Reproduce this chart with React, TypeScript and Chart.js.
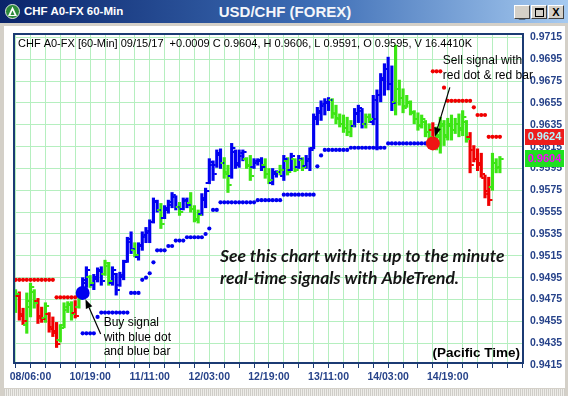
import React, { useEffect, useRef } from 'react';
import { Chart, registerables } from 'chart.js';

Chart.register(...registerables);

// ---------- DATA (hourly bars, USD/CHF) ----------
const opens = [
  0.9470, 0.9478, 0.9462, 0.9452, 0.9468, 0.9482, 0.9474, 0.9460, 0.9458, 0.9462,
  0.9450, 0.9446, 0.9438, 0.9452, 0.9465, 0.9470, 0.9463, 0.9468, 0.9477, 0.9490,
  0.9496, 0.9488, 0.9494, 0.9501, 0.9498, 0.9506, 0.9490, 0.9498, 0.9488, 0.9496,
  0.9510, 0.9528, 0.9520, 0.9514, 0.9524, 0.9532, 0.9536, 0.9546, 0.9564, 0.9557,
  0.9550, 0.9557, 0.9562, 0.9569, 0.9560, 0.9558, 0.9565, 0.9563, 0.9558, 0.9548,
  0.9553, 0.9566, 0.9582, 0.9598, 0.9598, 0.9607, 0.9600, 0.9592, 0.9588, 0.9610,
  0.9600, 0.9606, 0.9604, 0.9598, 0.9596, 0.9600, 0.9602, 0.9598, 0.9590, 0.9582,
  0.9590, 0.9592, 0.9588, 0.9602, 0.9594, 0.9604, 0.9596, 0.9603, 0.9597, 0.9602,
  0.9614, 0.9640, 0.9646, 0.9652, 0.9655, 0.9658, 0.9646, 0.9641, 0.9636, 0.9632,
  0.9628, 0.9634, 0.9645, 0.9648, 0.9636, 0.9642, 0.9638, 0.9640, 0.9662, 0.9676,
  0.9686, 0.9672, 0.9656, 0.9668, 0.9660, 0.9652, 0.9655, 0.9646, 0.9640, 0.9635,
  0.9638, 0.9628, 0.9630, 0.9616, 0.9624, 0.9634, 0.9626, 0.9634, 0.9630, 0.9636,
  0.9632, 0.9638, 0.9624, 0.9612, 0.9604, 0.9600, 0.9586, 0.9574, 0.9578, 0.9600,
  0.9595,
];
const highs = [
  0.9484, 0.9482, 0.9467, 0.9481, 0.9490, 0.9484, 0.9476, 0.9468, 0.9472, 0.9463,
  0.9459, 0.9454, 0.9452, 0.9472, 0.9473, 0.9473, 0.9474, 0.9477, 0.9495, 0.9505,
  0.9497, 0.9498, 0.9504, 0.9505, 0.9511, 0.9509, 0.9505, 0.9499, 0.9500, 0.9511,
  0.9532, 0.9537, 0.9527, 0.9527, 0.9537, 0.9541, 0.9548, 0.9568, 0.9566, 0.9563,
  0.9561, 0.9566, 0.9573, 0.9570, 0.9564, 0.9568, 0.9568, 0.9573, 0.9561, 0.9557,
  0.9572, 0.9577, 0.9604, 0.9602, 0.9612, 0.9613, 0.9605, 0.9598, 0.9618, 0.9612,
  0.9612, 0.9612, 0.9605, 0.9607, 0.9604, 0.9604, 0.9605, 0.9604, 0.9595, 0.9595,
  0.9593, 0.9598, 0.9607, 0.9605, 0.9609, 0.9604, 0.9607, 0.9605, 0.9607, 0.9614,
  0.9645, 0.9651, 0.9657, 0.9659, 0.9660, 0.9659, 0.9653, 0.9645, 0.9644, 0.9642,
  0.9639, 0.9650, 0.9653, 0.9650, 0.9645, 0.9645, 0.9662, 0.9667, 0.9682, 0.9691,
  0.9697, 0.9689, 0.9708, 0.9676, 0.9668, 0.9662, 0.9657, 0.9648, 0.9646, 0.9644,
  0.9639, 0.9636, 0.9637, 0.9633, 0.9642, 0.9639, 0.9641, 0.9644, 0.9641, 0.9645,
  0.9648, 0.9639, 0.9628, 0.9616, 0.9613, 0.9609, 0.9589, 0.9587, 0.9609, 0.9604,
  0.9606,
];
const lows = [
  0.9463, 0.9456, 0.9452, 0.9444, 0.9459, 0.9467, 0.9453, 0.9454, 0.9454, 0.9445,
  0.9441, 0.9431, 0.9436, 0.9449, 0.9463, 0.9456, 0.9458, 0.9467, 0.9476, 0.9486,
  0.9486, 0.9484, 0.9491, 0.9488, 0.9497, 0.9488, 0.9488, 0.9479, 0.9487, 0.9493,
  0.9509, 0.9517, 0.9514, 0.9511, 0.9520, 0.9527, 0.9527, 0.9545, 0.9555, 0.9540,
  0.9549, 0.9554, 0.9559, 0.9557, 0.9552, 0.9557, 0.9559, 0.9555, 0.9546, 0.9545,
  0.9552, 0.9559, 0.9581, 0.9584, 0.9596, 0.9595, 0.9586, 0.9573, 0.9586, 0.9595,
  0.9596, 0.9602, 0.9595, 0.9584, 0.9595, 0.9598, 0.9593, 0.9586, 0.9581, 0.9580,
  0.9587, 0.9589, 0.9584, 0.9589, 0.9593, 0.9592, 0.9595, 0.9593, 0.9595, 0.9593,
  0.9613, 0.9635, 0.9639, 0.9644, 0.9648, 0.9641, 0.9636, 0.9633, 0.9628, 0.9625,
  0.9624, 0.9633, 0.9637, 0.9632, 0.9632, 0.9637, 0.9635, 0.9612, 0.9656, 0.9662,
  0.9667, 0.9648, 0.9644, 0.9653, 0.9646, 0.9651, 0.9644, 0.9636, 0.9630, 0.9632,
  0.9624, 0.9621, 0.9614, 0.9612, 0.9609, 0.9616, 0.9621, 0.9621, 0.9627, 0.9624,
  0.9625, 0.9619, 0.9591, 0.9601, 0.9593, 0.9587, 0.9568, 0.9561, 0.9575, 0.9591,
  0.9591,
];
const closes = [
  0.9480, 0.9460, 0.9455, 0.9474, 0.9486, 0.9472, 0.9458, 0.9457, 0.9469, 0.9448,
  0.9444, 0.9434, 0.9449, 0.9468, 0.9471, 0.9462, 0.9460, 0.9475, 0.9493, 0.9502,
  0.9490, 0.9496, 0.9502, 0.9492, 0.9508, 0.9492, 0.9502, 0.9484, 0.9497, 0.9509,
  0.9530, 0.9521, 0.9516, 0.9525, 0.9534, 0.9538, 0.9546, 0.9565, 0.9557, 0.9544,
  0.9559, 0.9564, 0.9571, 0.9560, 0.9555, 0.9566, 0.9562, 0.9558, 0.9549, 0.9552,
  0.9568, 0.9574, 0.9601, 0.9590, 0.9609, 0.9600, 0.9590, 0.9580, 0.9614, 0.9598,
  0.9609, 0.9610, 0.9597, 0.9588, 0.9602, 0.9603, 0.9596, 0.9590, 0.9584, 0.9592,
  0.9592, 0.9594, 0.9604, 0.9592, 0.9606, 0.9594, 0.9604, 0.9596, 0.9604, 0.9612,
  0.9642, 0.9648, 0.9654, 0.9656, 0.9658, 0.9645, 0.9640, 0.9636, 0.9632, 0.9628,
  0.9634, 0.9646, 0.9650, 0.9636, 0.9642, 0.9640, 0.9658, 0.9662, 0.9678, 0.9686,
  0.9672, 0.9655, 0.9668, 0.9660, 0.9650, 0.9656, 0.9647, 0.9640, 0.9634, 0.9640,
  0.9628, 0.9624, 0.9618, 0.9626, 0.9636, 0.9624, 0.9636, 0.9630, 0.9636, 0.9630,
  0.9642, 0.9622, 0.9598, 0.9604, 0.9598, 0.9590, 0.9572, 0.9566, 0.9600, 0.9596,
  0.9604,
];
// bar colour: b = uptrend (blue), g = neutral (green), r = downtrend (red)
const trend = [
  'g', 'r', 'r', 'g', 'g', 'g', 'r', 'r', 'g', 'r',
  'r', 'r', 'g', 'g', 'g', 'g', 'r', 'g', 'b', 'b',
  'g', 'b', 'b', 'b', 'g', 'g', 'b', 'b', 'b', 'b',
  'b', 'b', 'g', 'b', 'b', 'b', 'b', 'b', 'b', 'g',
  'b', 'b', 'b', 'b', 'g', 'b', 'b', 'g', 'g', 'g',
  'b', 'b', 'b', 'b', 'b', 'b', 'g', 'g', 'b', 'b',
  'b', 'b', 'g', 'g', 'b', 'b', 'b', 'g', 'g', 'b',
  'b', 'g', 'b', 'g', 'b', 'g', 'b', 'g', 'b', 'b',
  'b', 'b', 'b', 'b', 'b', 'g', 'g', 'g', 'g', 'g',
  'g', 'b', 'b', 'b', 'g', 'g', 'b', 'b', 'b', 'b',
  'b', 'b', 'g', 'g', 'g', 'g', 'g', 'g', 'g', 'g',
  'g', 'g', 'r', 'g', 'g', 'g', 'g', 'g', 'g', 'g',
  'g', 'g', 'r', 'r', 'r', 'r', 'r', 'r', 'g', 'g',
  'g',
];
// blue support stop dots (null = none)
const blueStop = [
  null, null, null, null, null, null, null, null, null, null,
  null, null, null, null, null, null, null, null, 0.9444, 0.9444,
  0.9444, 0.9444, 0.9459, 0.9463, 0.9463, 0.9463, 0.9463, 0.9463, 0.9463, 0.9463,
  0.9463, 0.9481, 0.9481, 0.9481, 0.9493, 0.9495, 0.9499, 0.9509, 0.9520, 0.9520,
  0.9520, 0.9524, 0.9524, 0.9529, 0.9529, 0.9529, 0.9532, 0.9532, 0.9532, 0.9532,
  0.9532, 0.9535, 0.9540, 0.9557, 0.9557, 0.9564, 0.9564, 0.9564, 0.9564, 0.9564,
  0.9564, 0.9564, 0.9564, 0.9564, 0.9564, 0.9566, 0.9566, 0.9566, 0.9566, 0.9566,
  0.9566, 0.9566, 0.9571, 0.9571, 0.9571, 0.9571, 0.9571, 0.9571, 0.9571, 0.9571,
  0.9571, 0.9597, 0.9607, 0.9612, 0.9612, 0.9612, 0.9612, 0.9612, 0.9612, 0.9612,
  0.9614, 0.9614, 0.9614, 0.9614, 0.9614, 0.9614, 0.9614, 0.9614, 0.9614, 0.9614,
  0.9618, 0.9618, 0.9618, 0.9618, 0.9618, 0.9618, 0.9618, 0.9618, 0.9618, 0.9618,
  0.9618, null, null, null, null, null, null, null, null, null,
  null, null, null, null, null, null, null, null, null, null,
  null,
];
// red resistance stop dots
const redStop = [
  0.9493, 0.9493, 0.9493, 0.9493, 0.9493, 0.9493, 0.9493, 0.9493, 0.9493, 0.9493,
  0.9493, 0.9477, 0.9477, 0.9477, 0.9477, 0.9477, 0.9477, null, null, null,
  null, null, null, null, null, null, null, null, null, null,
  null, null, null, null, null, null, null, null, null, null,
  null, null, null, null, null, null, null, null, null, null,
  null, null, null, null, null, null, null, null, null, null,
  null, null, null, null, null, null, null, null, null, null,
  null, null, null, null, null, null, null, null, null, null,
  null, null, null, null, null, null, null, null, null, null,
  null, null, null, null, null, null, null, null, null, null,
  null, null, null, null, null, null, null, null, null, null,
  null, null, 0.9684, 0.9684, 0.9684, 0.9669, 0.9657, 0.9657, 0.9657, 0.9657,
  0.9657, 0.9657, 0.9657, 0.9651, 0.9644, 0.9644, 0.9644, 0.9624, 0.9624, 0.9624,
  0.9624,
];
const buySignal = { bar: 18, price: 0.9481 };
const sellSignal = { bar: 112, price: 0.9618 };

const xLabelIdx = [4, 20, 36, 52, 68, 84, 100, 116];
const xLabels = ['08/06:00', '10/19:00', '11/11:00', '12/03:00', '12/19:00', '13/11:00', '14/03:00', '14/19:00'];
const yTicks = [0.9415, 0.9435, 0.9455, 0.9475, 0.9495, 0.9515, 0.9535, 0.9555, 0.9575, 0.9595, 0.9615, 0.9635, 0.9655, 0.9675, 0.9695, 0.9715];

const headerText = 'CHF A0-FX [60-Min] 09/15/17  +0.0009 C 0.9604, H 0.9606, L 0.9591, O 0.9595, V 16.4410K';

// ---------- STYLE ----------
const COLORS: any = { b: '#0000f0', g: '#3ce614', r: '#f00000' };
const NAVY = '#1b3a73';
const GRID = '#b5efbf';
const AXIS_TEXT = '#27438a';
const FONT = '"Liberation Sans", Arial, sans-serif';
const Y_MIN = 0.94168;
const Y_MAX = 0.97182;

function drawArrow(ctx: any, x1: number, y1: number, x2: number, y2: number) {
  const ang = Math.atan2(y2 - y1, x2 - x1);
  const hl = 9, hw = 3.5;
  const bx = x2 - hl * Math.cos(ang), by = y2 - hl * Math.sin(ang);
  ctx.beginPath();
  ctx.moveTo(x1, y1);
  ctx.lineTo(bx, by);
  ctx.strokeStyle = '#000';
  ctx.lineWidth = 1.2;
  ctx.stroke();
  ctx.beginPath();
  ctx.moveTo(x2, y2);
  ctx.lineTo(bx + hw * Math.sin(ang), by - hw * Math.cos(ang));
  ctx.lineTo(bx - hw * Math.sin(ang), by + hw * Math.cos(ang));
  ctx.closePath();
  ctx.fillStyle = '#000';
  ctx.fill();
}

function arrowToDot(ctx: any, cx: number, cy: number, tx: number, ty: number, r: number) {
  const dx = tx - cx, dy = ty - cy;
  const d = Math.hypot(dx, dy);
  drawArrow(ctx, tx, ty, cx + (r * dx) / d, cy + (r * dy) / d);
}

const decorPlugin = {
  id: 'decor',
  afterDatasetDraw(chart: any, args: any) {
    if (args.index !== 2) return;
    const { ctx, chartArea } = chart;
    const xs = chart.scales.x, ys = chart.scales.y;
    ctx.save();
    ctx.beginPath();
    ctx.rect(chartArea.left, chartArea.top, chartArea.right - chartArea.left, chartArea.bottom - chartArea.top);
    ctx.clip();
    for (let i = 0; i < opens.length; i++) {
      const x = xs.getPixelForValue(i);
      ctx.fillStyle = COLORS[trend[i]];
      ctx.fillRect(x - 3.7, Math.round(ys.getPixelForValue(opens[i])) - 1, 2.5, 2);
      ctx.fillRect(x + 1.2, Math.round(ys.getPixelForValue(closes[i])) - 1, 2.5, 2);
    }
    ctx.restore();
  },
  afterDraw(chart: any) {
    const { ctx, chartArea: a } = chart;
    const xs = chart.scales.x, ys = chart.scales.y;
    ctx.save();
    // plot frame
    ctx.strokeStyle = NAVY;
    ctx.lineWidth = 2;
    ctx.strokeRect(a.left, a.top, a.right - a.left, a.bottom - a.top);

    // header line
    ctx.fillStyle = '#000';
    ctx.textBaseline = 'middle';
    ctx.textAlign = 'left';
    ctx.font = `11px ${FONT}`;
    ctx.fillText(headerText, a.left + 4, a.top + 10);

    // buy annotation
    const bx = xs.getPixelForValue(buySignal.bar), by = ys.getPixelForValue(buySignal.price);
    ctx.font = `12px ${FONT}`;
    ctx.fillStyle = '#000';
    ['Buy signal', 'with blue dot', 'and blue bar'].forEach((t, k) => ctx.fillText(t, bx + 21, by + 30 + k * 14.3));
    arrowToDot(ctx, bx, by, bx + 18, by + 41, 7);

    // sell annotation
    const sx = xs.getPixelForValue(sellSignal.bar), sy = ys.getPixelForValue(sellSignal.price);
    ['Sell signal with', 'red dot & red bar'].forEach((t, k) => ctx.fillText(t, sx + 10, sy - 83 + k * 15));
    arrowToDot(ctx, sx, sy, sx + 17, sy - 56, 7);

    // promo text
    ctx.font = `italic bold 17.5px Lato, "Open Sans", sans-serif`;
    ctx.fillStyle = '#151515';
    ctx.fillText('See this chart with its up to the minute', a.left + 206, a.top + 222);
    ctx.fillText('real-time signals with AbleTrend.', a.left + 206, a.top + 244);

    // pacific time
    ctx.font = `bold 13.5px ${FONT}`;
    ctx.textAlign = 'right';
    ctx.fillStyle = '#000';
    ctx.fillText('(Pacific Time)', a.right - 3, a.bottom - 10);

    // price tags
    const drawTag = (v: number, bg: string, fg: string, h: number) => {
      const y = ys.getPixelForValue(v);
      ctx.fillStyle = bg;
      ctx.fillRect(a.right + 2, Math.round(y - h / 2), 39, h);
      ctx.fillStyle = fg;
      ctx.font = `bold 11px ${FONT}`;
      ctx.textAlign = 'center';
      ctx.fillText(v.toFixed(4), a.right + 21.5, y + 0.5);
    };
    drawTag(redStop[redStop.length - 1] as number, '#ee1c1c', '#b4f6ff', 16);
    drawTag(closes[closes.length - 1], '#1ee01e', '#ff00ff', 17);
    ctx.restore();
  },
};

export default function App() {
  const ref = useRef<HTMLCanvasElement>(null);
  useEffect(() => {
    document.body.style.margin = '0';
    const canvas = ref.current as HTMLCanvasElement;
    Chart.defaults.font.family = FONT;
    const barData = highs.map((h, i) => ({ x: i, y: [lows[i], h] }));
    const bluePts: any[] = [];
    blueStop.forEach((v, i) => { if (v !== null) bluePts.push({ x: i, y: v }); });
    const redPts: any[] = [];
    redStop.forEach((v, i) => { if (v !== null) redPts.push({ x: i, y: v }); });

    const chart = new Chart(canvas, {
      type: 'scatter',
      data: {
        datasets: [
          { type: 'scatter', data: [{ x: sellSignal.bar, y: sellSignal.price }], pointRadius: 7, pointBackgroundColor: '#f01414', pointBorderWidth: 0 },
          { type: 'scatter', data: [{ x: buySignal.bar, y: buySignal.price }], pointRadius: 7, pointBackgroundColor: '#0000f0', pointBorderWidth: 0 },
          { type: 'bar', data: barData as any, backgroundColor: trend.map((t) => COLORS[t]), barThickness: 2.5, borderWidth: 0, grouped: false } as any,
          { type: 'scatter', data: bluePts, pointRadius: 2.1, pointBackgroundColor: '#0000f0', pointBorderWidth: 0 },
          { type: 'scatter', data: redPts, pointRadius: 2.1, pointBackgroundColor: '#f00000', pointBorderWidth: 0 },
        ],
      },
      options: {
        animation: false,
        responsive: false,
        maintainAspectRatio: false,
        devicePixelRatio: 1,
        events: [],
        layout: { padding: { left: 14, top: 34, right: 0, bottom: 0 } },
        plugins: { legend: { display: false }, tooltip: { enabled: false } },
        scales: {
          x: {
            type: 'linear',
            min: -0.43,
            max: 136.2,
            offset: false,
            afterBuildTicks: (s: any) => {
              const t: any[] = [];
              for (let v = 0; v <= 136; v += 4) t.push({ value: v });
              s.ticks = t;
            },
            afterFit: (s: any) => { s.height = 33; },
            grid: { color: GRID, offset: false, drawTicks: true, tickLength: 5, tickColor: NAVY, lineWidth: 1 },
            border: { display: false },
            ticks: {
              autoSkip: false, maxRotation: 0, minRotation: 0, padding: 3, color: AXIS_TEXT,
              font: { size: 10.5, weight: 'bold' },
              callback: (v: any) => { const k = xLabelIdx.indexOf(Number(v)); return k >= 0 ? xLabels[k] : ''; },
            },
          },
          y: {
            type: 'linear',
            position: 'right',
            min: Y_MIN,
            max: Y_MAX,
            afterBuildTicks: (s: any) => { s.ticks = yTicks.map((v) => ({ value: v })); },
            afterFit: (s: any) => { s.width = 45; },
            grid: {
              color: (c: any) => (c.tick && c.tick.value < Y_MIN ? 'rgba(0,0,0,0)' : GRID),
              drawTicks: false,
              lineWidth: 1,
            },
            border: { display: false },
            ticks: {
              autoSkip: false, padding: 7, color: AXIS_TEXT,
              font: { size: 10.5, weight: 'bold' },
              callback: (v: any) => Number(v).toFixed(4),
            },
          },
        } as any,
      },
      plugins: [decorPlugin],
    } as any);
    let alive = true;
    if ((document as any).fonts) {
      (document as any).fonts.load('italic bold 17.5px Lato').then(() => { if (alive) chart.draw(); }).catch(() => {});
    }
    return () => { alive = false; chart.destroy(); };
  }, []);

  const btn = (left: number, glyph: any) => (
    <div style={{
      position: 'absolute', left, top: 5, width: 14, height: 12, background: '#d4d0c8',
      borderTop: '1px solid #fff', borderLeft: '1px solid #fff', borderRight: '1px solid #404040', borderBottom: '1px solid #404040',
      display: 'flex', alignItems: 'center', justifyContent: 'center', fontFamily: FONT, fontWeight: 'bold', fontSize: 11, color: '#000', lineHeight: '12px',
    }}>{glyph}</div>
  );

  return (
    <div style={{ position: 'fixed', left: 0, top: 0, width: 568, height: 396, background: '#d4d0c8', overflow: 'hidden' }}>
      <div style={{ position: 'absolute', left: 0, top: 0, width: 568, height: 23, background: 'linear-gradient(to right, #0a246a 0%, #3d6db5 55%, #a6caf0 100%)' }}>
        <svg width="15" height="15" style={{ position: 'absolute', left: 5, top: 4 }}>
          <circle cx="7.5" cy="7.5" r="7" fill="#2c8a3a" stroke="#dfe8df" strokeWidth="1" />
          <polygon points="7.5,2.5 12,12 3,12" fill="#ffffff" />
          <polygon points="7.5,6.5 9.5,11 5.5,11" fill="#2c8a3a" />
        </svg>
        <div style={{ position: 'absolute', left: 24, top: 0, height: 23, lineHeight: '23px', color: '#fff', fontFamily: FONT, fontWeight: 'bold', fontSize: 11.5, whiteSpace: 'nowrap' }}>CHF A0-FX 60-Min</div>
        <div style={{ position: 'absolute', left: 0, width: 570, top: 0, height: 23, lineHeight: '23px', textAlign: 'center', color: '#f4f6fa', fontFamily: FONT, fontWeight: 'bold', fontSize: 15, whiteSpace: 'nowrap' }}>USD/CHF (FOREX)</div>
        {btn(514, <span style={{ marginTop: 4 }}>_</span>)}
        {btn(531, <span style={{ display: 'inline-block', width: 7, height: 6, border: '1px solid #000', borderTopWidth: 2 }} />)}
        {btn(548, 'X')}
      </div>
      <div style={{ position: 'absolute', left: 4, top: 26, width: 561, height: 362, background: '#ffffff' }} />
      <div style={{ position: 'absolute', left: 4, top: 389, width: 561, height: 7, background: 'repeating-linear-gradient(90deg, #cfcdc8 0 1px, #eeede9 1px 2px)' }} />
      <canvas ref={ref} width={568} height={396} style={{ position: 'absolute', left: 0, top: 0, width: 568, height: 396 }} />
    </div>
  );
}
